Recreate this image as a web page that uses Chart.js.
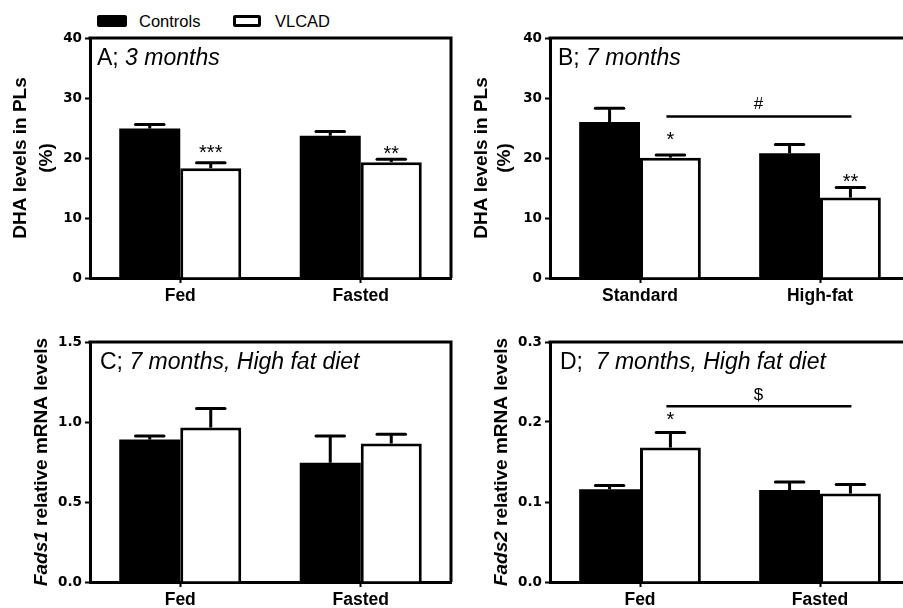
<!DOCTYPE html>
<html><head><meta charset="utf-8">
<script src="https://cdn.jsdelivr.net/npm/chart.js@4.4.1/dist/chart.umd.min.js"></script>
<style>
html,body{margin:0;padding:0;width:903px;height:608px;overflow:hidden;background:#fff;}
body{position:relative;}
.panel{position:absolute;}
.lg-box{position:absolute;box-sizing:border-box;border-radius:2px;}
.lg-text{position:absolute;line-height:1;font-family:'Liberation Sans',Arial,Helvetica,sans-serif;font-size:16.5px;color:#000;white-space:nowrap;}
</style></head><body>
<div id="legend">
  <div class="lg-box" style="left:97px;top:15px;width:30px;height:12px;background:#000"></div>
  <span class="lg-text" id="lgC" style="left:139px;top:13px"></span>
  <div class="lg-box" style="left:233px;top:15px;width:28px;height:12px;background:#fff;border:3px solid #000"></div>
  <span class="lg-text" id="lgV" style="left:275px;top:13px"></span>
</div>
<div class="panel" style="left:0;top:0;width:460px;height:310px"><canvas id="cA"></canvas></div>
<div class="panel" style="left:460px;top:0;width:460px;height:310px"><canvas id="cB"></canvas></div>
<div class="panel" style="left:0;top:300px;width:460px;height:308px"><canvas id="cC"></canvas></div>
<div class="panel" style="left:460px;top:300px;width:460px;height:308px"><canvas id="cD"></canvas></div>
<script>
// ---------- data ----------
const seriesNames = ['Controls', 'VLCAD'];

const catsA = ['Fed', 'Fasted'];
const controlsA = [24.9, 23.7];
const controlsSemA = [0.7, 0.7];
const vlcadA = [18.3, 19.3];
const vlcadSemA = [0.9, 0.5];
const yTicksA = [0, 10, 20, 30, 40];
const yTickLabelsA = ['0', '10', '20', '30', '40'];
const marksA = [{text: '***', series: 1, cat: 0, at: 20.55}, {text: '**', series: 1, cat: 1, at: 21.3}];

const catsB = ['Standard', 'High-fat'];
const controlsB = [26.0, 20.8];
const controlsSemB = [2.3, 1.45];
const vlcadB = [20.05, 13.4];
const vlcadSemB = [0.45, 1.7];
const yTicksB = [0, 10, 20, 30, 40];
const yTickLabelsB = ['0', '10', '20', '30', '40'];
const marksB = [{text: '*', series: 1, cat: 0, at: 22.8}, {text: '**', series: 1, cat: 1, at: 16.7}];
const bracketB = {text: '#', series: 1, from: 0, to: 1, at: 26.93, textAt: 29.17};

const catsC = ['Fed', 'Fasted'];
const controlsC = [0.89, 0.745];
const controlsSemC = [0.023, 0.167];
const vlcadC = [0.965, 0.865];
const vlcadSemC = [0.119, 0.058];
const yTicksC = [0, 0.5, 1.0, 1.5];
const yTickLabelsC = ['0.0', '0.5', '1.0', '1.5'];

const catsD = ['Fed', 'Fasted'];
const controlsD = [0.116, 0.115];
const controlsSemD = [0.0045, 0.010];
const vlcadD = [0.168, 0.1105];
const vlcadSemD = [0.019, 0.0113];
const yTicksD = [0, 0.1, 0.2, 0.3];
const yTickLabelsD = ['0.0', '0.1', '0.2', '0.3'];
const marksD = [{text: '*', series: 1, cat: 0, at: 0.2}];
const bracketD = {text: '$', series: 1, from: 0, to: 1, at: 0.2196, textAt: 0.2334};

const panelTitleA = [['A; ', false], ['3 months', true]];
const panelTitleB = [['B; ', false], ['7 months', true]];
const panelTitleC = [['C; ', false], ['7 months, High fat diet', true]];
const panelTitleD = [['D;  ', false], ['7 months, High fat diet', true]];
const yTitleAB = [[['DHA levels in PLs', false]], [['(%)', false]]];
const yTitleC = [[['Fads1', true], [' relative mRNA levels', false]]];
const yTitleD = [[['Fads2', true], [' relative mRNA levels', false]]];

// ---------- rendering ----------
const SANS = "'Liberation Sans', Arial, Helvetica, sans-serif";
document.getElementById('lgC').textContent = seriesNames[0];
document.getElementById('lgV').textContent = seriesNames[1];

function drawCentered(ctx, text, x, yc) {
  const m = ctx.measureText(text);
  ctx.textAlign = 'center';
  ctx.textBaseline = 'alphabetic';
  ctx.fillText(text, x, yc + (m.actualBoundingBoxAscent - m.actualBoundingBoxDescent) / 2);
}

function drawRuns(ctx, runs, x, yc, size, bold, align) {
  const fontFor = (it) => (it ? 'italic ' : '') + (bold ? 'bold ' : '') + size + 'px ' + SANS;
  let total = 0;
  runs.forEach(([t, it]) => { ctx.font = fontFor(it); total += ctx.measureText(t).width; });
  let cx = align === 'center' ? x - total / 2 : x;
  ctx.textAlign = 'left';
  ctx.textBaseline = 'middle';
  runs.forEach(([t, it]) => { ctx.font = fontFor(it); ctx.fillText(t, cx, yc); cx += ctx.measureText(t).width; });
}

const errorBars = {
  id: 'errorBars',
  afterDatasetsDraw(chart) {
    const {ctx, scales: {y}} = chart;
    ctx.save();
    ctx.strokeStyle = '#000';
    ctx.lineWidth = 3;
    chart.data.datasets.forEach((ds, di) => {
      const meta = chart.getDatasetMeta(di);
      meta.data.forEach((bar, i) => {
        const top = y.getPixelForValue(ds.data[i] + ds.errors[i]);
        const half = bar.width / 4 - 1;
        ctx.lineCap = 'butt';
        ctx.beginPath(); ctx.moveTo(bar.x, bar.y); ctx.lineTo(bar.x, top); ctx.stroke();
        ctx.lineCap = 'round';
        ctx.beginPath(); ctx.moveTo(bar.x - half, top); ctx.lineTo(bar.x + half, top); ctx.stroke();
      });
    });
    ctx.restore();
  }
};

const annot = {
  id: 'annot',
  afterDraw(chart, args, o) {
    const {ctx, chartArea: a, scales: {y}} = chart;
    ctx.save();
    ctx.strokeStyle = '#000';
    ctx.fillStyle = '#000';
    // frame (top and right)
    ctx.lineWidth = 3;
    ctx.lineCap = 'butt';
    ctx.beginPath();
    ctx.moveTo(a.left - 1.5, a.top);
    ctx.lineTo(a.right, a.top);
    ctx.lineTo(a.right, a.bottom);
    ctx.stroke();
    // panel title
    drawRuns(ctx, o.title, a.left + o.titleDx, a.top + 21, 23, false, 'left');
    // y-axis title
    const yc = (a.top + a.bottom) / 2;
    o.yTitle.forEach((runs, li) => {
      ctx.save();
      ctx.translate(a.left + o.yTitleDx[li], yc);
      ctx.rotate(-Math.PI / 2);
      drawRuns(ctx, runs, 0, 0, 19, true, 'center');
      ctx.restore();
    });
    // significance marks
    ctx.font = '20px ' + SANS;
    (o.marks || []).forEach(m => {
      const bar = chart.getDatasetMeta(m.series).data[m.cat];
      drawCentered(ctx, m.text, bar.x, y.getPixelForValue(m.at));
    });
    if (o.bracket) {
      const b = o.bracket;
      const meta = chart.getDatasetMeta(b.series);
      const x0 = meta.data[b.from].x, x1 = meta.data[b.to].x;
      const yy = y.getPixelForValue(b.at);
      ctx.lineWidth = 2.5;
      ctx.beginPath(); ctx.moveTo(x0 - 4, yy); ctx.lineTo(x1 + 1, yy); ctx.stroke();
      ctx.font = '17px ' + SANS;
      drawCentered(ctx, b.text, (x0 + x1) / 2 - 2, y.getPixelForValue(b.textAt));
    }
    ctx.restore();
  }
};

function makePanel(id, cfg) {
  const axisGrid = {display: true, drawOnChartArea: false, drawTicks: true, tickLength: 5, tickWidth: 2, tickColor: '#000'};
  new Chart(document.getElementById(id), {
    type: 'bar',
    data: {
      labels: cfg.cats,
      datasets: [
        {label: seriesNames[0], data: cfg.controls, errors: cfg.controlsSem, backgroundColor: '#000', borderColor: '#000', borderWidth: 0},
        {label: seriesNames[1], data: cfg.vlcad, errors: cfg.vlcadSem, backgroundColor: '#fff', borderColor: '#000', borderWidth: 3}
      ]
    },
    options: {
      responsive: true,
      maintainAspectRatio: false,
      animation: false,
      devicePixelRatio: 1,
      layout: {padding: {left: 0, right: cfg.padRight, top: cfg.padTop, bottom: 0}},
      datasets: {bar: {categoryPercentage: 0.676, barPercentage: 1}},
      plugins: {
        legend: {display: false},
        tooltip: {enabled: false},
        annot: {title: cfg.title, titleDx: cfg.titleDx, yTitle: cfg.yTitle, yTitleDx: cfg.yTitleDx, marks: cfg.marks, bracket: cfg.bracket}
      },
      scales: {
        x: {
          grid: Object.assign({}, axisGrid, {offset: false}),
          border: {display: true, width: 3, color: '#000'},
          ticks: {color: '#000', padding: 3, maxRotation: 0, font: {family: SANS, size: 17.5, weight: 'bold'}},
          afterFit(s) { s.height = cfg.xH; }
        },
        y: {
          min: cfg.yTicks[0],
          max: cfg.yTicks[cfg.yTicks.length - 1],
          grid: axisGrid,
          border: {display: true, width: 3, color: '#000'},
          ticks: {
            color: '#000', padding: 3,
            font: {family: "'DejaVu Sans', sans-serif", size: 13.5, weight: 'bold'},
            callback: (v, i) => cfg.yTickLabels[i]
          },
          afterBuildTicks(s) { s.ticks = cfg.yTicks.map(v => ({value: v})); },
          afterFit(s) { s.width = 90; }
        }
      }
    },
    plugins: [errorBars, annot]
  });
}

makePanel('cA', {cats: catsA, controls: controlsA, controlsSem: controlsSemA, vlcad: vlcadA, vlcadSem: vlcadSemA,
  yTicks: yTicksA, yTickLabels: yTickLabelsA, marks: marksA, title: panelTitleA, titleDx: 7,
  yTitle: yTitleAB, yTitleDx: [-69, -43], padTop: 38, padRight: 9, xH: 32});
makePanel('cB', {cats: catsB, controls: controlsB, controlsSem: controlsSemB, vlcad: vlcadB, vlcadSem: vlcadSemB,
  yTicks: yTicksB, yTickLabels: yTickLabelsB, marks: marksB, bracket: bracketB, title: panelTitleB, titleDx: 8,
  yTitle: yTitleAB, yTitleDx: [-68, -45], padTop: 38, padRight: 10, xH: 32});
makePanel('cC', {cats: catsC, controls: controlsC, controlsSem: controlsSemC, vlcad: vlcadC, vlcadSem: vlcadSemC,
  yTicks: yTicksC, yTickLabels: yTickLabelsC, marks: [], title: panelTitleC, titleDx: 10,
  yTitle: yTitleC, yTitleDx: [-48], padTop: 42, padRight: 9, xH: 26});
makePanel('cD', {cats: catsD, controls: controlsD, controlsSem: controlsSemD, vlcad: vlcadD, vlcadSem: vlcadSemD,
  yTicks: yTicksD, yTickLabels: yTickLabelsD, marks: marksD, bracket: bracketD, title: panelTitleD, titleDx: 10,
  yTitle: yTitleD, yTitleDx: [-48], padTop: 42, padRight: 10, xH: 26});
</script>
</body></html>
